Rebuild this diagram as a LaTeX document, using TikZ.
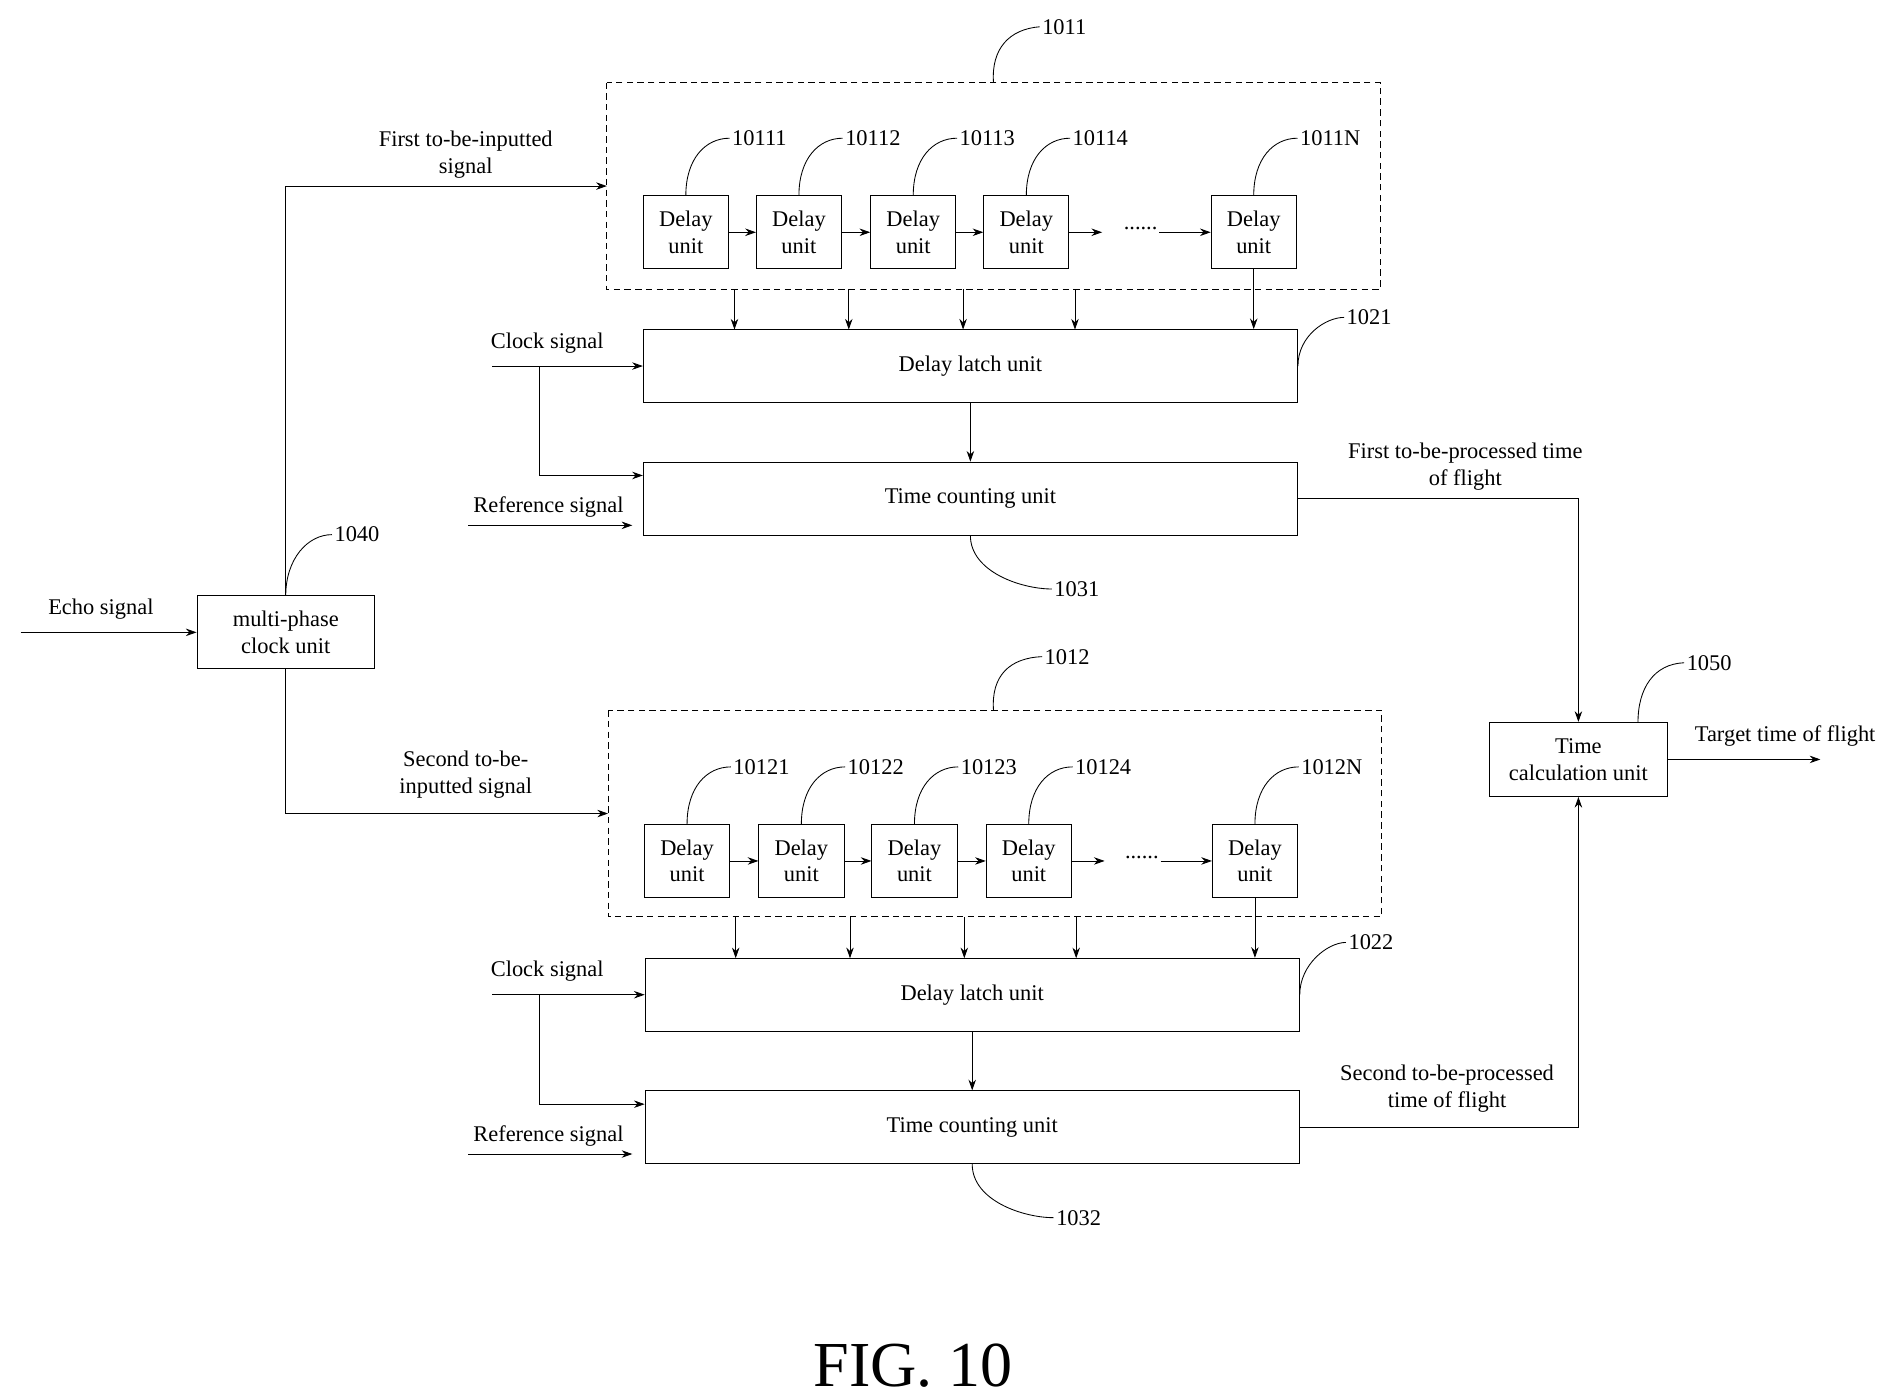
\documentclass[tikz,border=0pt]{standalone}
\usepackage{fontspec}
\setmainfont{Liberation Serif}
\usetikzlibrary{arrows.meta,positioning}
\begin{document}
\begin{tikzpicture}[x=0.2mm,y=-0.2mm,
  font=\fontsize{10.5}{12.5}\selectfont,
  >={Stealth[length=5pt,width=3.5pt]},
  box/.style={draw,thin,inner sep=0pt,align=center},
  unit/.style={box,minimum width=14mm,minimum height=12mm},
  wide/.style={box,minimum width=107.6mm,minimum height=12mm},
  grp/.style={draw,densely dashed,thin},
  tag/.style={inner sep=1pt},
  lbl/.style={align=center,inner sep=0pt}]

\useasboundingbox (0,0) rectangle (1560,1151);

% Groups of delay units
\draw[grp] (499,68) rectangle (1135,238);
\draw[grp] (500,584) rectangle (1136,754);
\coordinate (g1) at (817,68);
\coordinate (g2) at (817,584);

% Delay units, upper and lower rows
\foreach \n/\x in {1/564,2/657,3/751,4/844,5/1031}
  \node[unit] (a\n) at (\x,191) {Delay\\unit};
\foreach \n/\x in {1/565,2/659,3/752,4/846,5/1032}
  \node[unit] (b\n) at (\x,708) {Delay\\unit};

% Main blocks
\node[wide] (lat1) at (798,301) {Delay latch unit};
\node[wide] (cnt1) at (798,410) {Time counting unit};
\node[wide] (lat2) at (799.5,818) {Delay latch unit};
\node[wide] (cnt2) at (799.5,927) {Time counting unit};
\node[box,minimum width=29.2mm,minimum height=12mm] (mpc) at (235,520) {multi-phase\\clock unit};
\node[box,minimum width=29.2mm,minimum height=12.2mm] (tcu) at (1298,624.5) {Time\\calculation unit};

% Chains
\foreach \r in {a,b}{
  \foreach \i/\j in {1/2,2/3,3/4}
    \draw[->] (\r\i) -- (\r\j);
  \draw[->] (\r4.east) -- ++(27,0);
  \draw[->] ([xshift=-24] \r5.west) -- (\r5.west);
}
\node at (938,188) {......};
\node at (939,705) {......};

% Outputs into the latches
\foreach \x in {604,698,792,884}{
  \draw[->] (\x,238) -- (\x,271);
  \draw[->] (\x+1,754) -- (\x+1,788);
}
\draw[->] (a5) -- (a5 |- lat1.north);
\draw[->] (b5) -- (b5 |- lat2.north);
\draw[->] (lat1) -- (cnt1);
\draw[->] (lat2) -- (cnt2);

% Clock and reference inputs
\foreach \k/\y in {1/0,2/517}{
  \coordinate (ck\k) at (405,301+\y);
  \coordinate (rf\k) at (385,432+\y);
  \draw[->] (ck\k) -- (lat\k.west |- ck\k);
  \draw[->] (444,301+\y) |- (cnt\k.west |- {0,391+\y});
  \draw[->] (rf\k) -- (520,432+\y);
  \node[lbl] at (450,282+\y) {Clock signal};
  \node[lbl] at (451,417+\y) {Reference signal};
}

% Echo signal and inputted signals
\coordinate (echo) at (17,520);
\draw[->] (echo) -- (mpc);
\node[lbl] at (83,501) {Echo signal};
\draw[->] (mpc.north) |- (499,153);
\draw[->] (mpc.south) |- (500,669);
\node[lbl] at (383,127) {First to-be-inputted\\signal};
\node[lbl] at (383,637) {Second to-be-\\inputted signal};

% Times of flight
\draw[->] (cnt1.east) -| (tcu.north);
\draw[->] (cnt2.east) -| (tcu.south);
\node[lbl] at (1205,384) {First to-be-processed time\\of flight};
\node[lbl] at (1190,895) {Second to-be-processed\\time of flight};
\coordinate (out) at (1497,624.5);
\draw[->] (tcu) -- (out);
\node[lbl] at (1468,605) {Target time of flight};

% Reference numerals
\draw (g1) .. controls (815,40) and (830,24) .. (855,22) node[tag,right] {1011};
\draw (g2) .. controls (815,556) and (830,541) .. (857,540) node[tag,right] {1012};
\foreach \n/\t in {1/10111,2/10112,3/10113,4/10114,5/1011N}
  \draw (a\n.north) .. controls +(0,-30) and +(-20,0) .. +(36,-47) node[tag,right] {\t};
\foreach \n/\t in {1/10121,2/10122,3/10123,4/10124,5/1012N}
  \draw (b\n.north) .. controls +(0,-30) and +(-20,0) .. +(36,-47) node[tag,right] {\t};
\draw (lat1.east) .. controls +(0,-25) and +(-15,0) .. +(38,-40) node[tag,right] {1021};
\draw (lat2.east) .. controls +(0,-25) and +(-15,0) .. +(38,-43) node[tag,right] {1022};
\draw (cnt1.south) .. controls +(0,30) and +(-25,0) .. +(67,44) node[tag,right] {1031};
\draw (cnt2.south) .. controls +(0,30) and +(-25,0) .. +(67,44) node[tag,right] {1032};
\draw (mpc.north) .. controls +(0,-30) and +(-20,0) .. +(38,-50) node[tag,right] {1040};
\draw (1347,594) .. controls (1347,566) and (1360,546) .. (1385,545) node[tag,right] {1050};

\node[font=\fontsize{30}{34}\selectfont] (fig) at (751,1123) {FIG. 10};
\end{tikzpicture}
\end{document}
